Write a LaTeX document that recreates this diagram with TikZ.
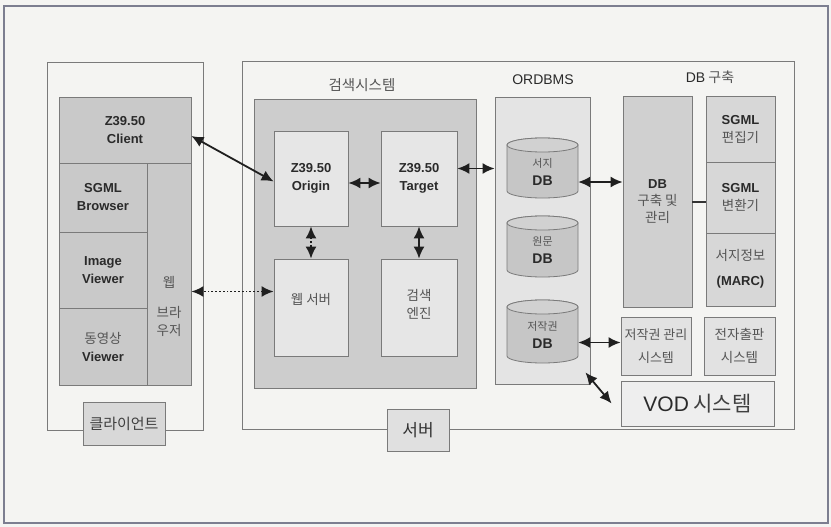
\documentclass[tikz,border=0pt]{standalone}
\usepackage{fontspec}
\setmainfont{Noto Sans CJK KR}
\newfontfamily\lat{Liberation Sans}
\usetikzlibrary{arrows.meta}
\definecolor{bg}{HTML}{F4F4F2}
\definecolor{outerc}{HTML}{7C7E90}
\definecolor{edge}{HTML}{7A7A7A}
\definecolor{txt}{HTML}{2A2A2A}
\definecolor{krc}{HTML}{555555}
\definecolor{clgray}{HTML}{C9C9C9}
\definecolor{ssgray}{HTML}{CDCDCD}
\definecolor{inbox}{HTML}{E6E6E6}
\definecolor{ordc}{HTML}{E4E4E4}
\definecolor{cylc}{HTML}{C6C6C6}
\definecolor{dbmc}{HTML}{D0D0D0}
\definecolor{colc}{HTML}{D7D7D7}
\definecolor{sysc}{HTML}{E2E2E2}
\definecolor{vodc}{HTML}{EEEEEE}
\definecolor{labc}{HTML}{D8D8D8}
\newcommand\ltn[1]{{\lat\bfseries #1}}
\newcommand\kor[1]{\textcolor{krc}{\fontsize{13.5}{18}\selectfont #1}}
\newcommand\cylbody[3]{% cx, top, bottom
  \filldraw[fill=cylc,draw=edge,line width=0.8pt]
    (#1-35.5,#2+7) -- (#1-35.5,#3-7)
    arc[start angle=180,end angle=360,x radius=35.5pt,y radius=7pt]
    -- (#1+35.5,#2+7)
    arc[start angle=0,end angle=180,x radius=35.5pt,y radius=7pt] -- cycle;
  \filldraw[fill=cylc!80!white,draw=edge,line width=0.8pt]
    (#1,#2+7) ellipse[x radius=35.5pt,y radius=7pt];
}
\begin{document}
\begin{tikzpicture}[x=1pt,y=-1pt,
  box/.style={draw=edge,line width=0.8pt,inner sep=0pt,align=center,text=txt,
    font=\fontsize{13}{18}\selectfont},
  plain/.style={inner sep=0pt,align=center,text=txt,font=\fontsize{13}{18}\selectfont},
  arr/.style={line width=1.8pt,draw=black!88,{Latex[length=12pt,width=11pt]}-{Latex[length=12pt,width=11pt]}},
  darr/.style={arr,dotted},
]
\useasboundingbox (0,0) rectangle (831,527);
\fill[bg] (0,0) rectangle (831,527);
\draw[outerc,line width=1.6pt] (4,6) rectangle (828,523);

% client
\node[box,fill=none,minimum width=156,minimum height=368] (cbox) at (125,246) {};
\node[box,fill=clgray,minimum width=132,minimum height=66] (zc) at (125,130) {\ltn{Z39.50}\\\ltn{Client}};
\node[box,fill=clgray,minimum width=88,minimum height=69] (sb) at (103,197.5) {\ltn{SGML}\\\ltn{Browser}};
\node[box,fill=clgray,minimum width=88,minimum height=76] (iv) at (103,270) {\ltn{Image}\\\ltn{Viewer}};
\node[box,fill=clgray,minimum width=88,minimum height=77] (mv) at (103,346.5) {\kor{동영상}\\\ltn{Viewer}};
\node[box,fill=clgray,minimum width=44,minimum height=222] (wb) at (169,274) {};
\node[plain] (wbt) at (169,306) {\kor{웹}\\[12pt]\kor{브라}\\\kor{우저}};
\node[box,fill=labc,minimum width=82,minimum height=43,font=\fontsize{15}{18}\selectfont] (clab) at (124,423.5) {\textcolor{black!75}{클라이언트}};

% server
\node[box,fill=none,minimum width=552,minimum height=368] (sbox) at (518,245) {};
\node[box,fill=labc!80!white,minimum width=62,minimum height=42,font=\fontsize{17}{20}\selectfont] (slab) at (418,430) {\textcolor{black!80}{서버}};

% search system
\node[plain,font=\fontsize{14}{18}\selectfont] (sst) at (362,85) {\kor{\fontsize{14.5}{18}\selectfont 검색시스템}};
\node[box,fill=ssgray,minimum width=222,minimum height=289] (ss) at (365,243.5) {};
\node[box,fill=inbox,minimum width=74,minimum height=95] (org) at (311,178.5) {\ltn{Z39.50}\\\ltn{Origin}};
\node[box,fill=inbox,minimum width=76,minimum height=95] (tgt) at (419,178.5) {\ltn{Z39.50}\\\ltn{Target}};
\node[box,fill=inbox,minimum width=74,minimum height=97,text depth=17pt] (web) at (311,307.5) {\kor{웹 서버}};
\node[box,fill=inbox,minimum width=76,minimum height=97,text depth=8pt] (eng) at (419,307.5) {\kor{검색}\\\kor{엔진}};

% ORDBMS
\node[plain,font=\lat\fontsize{14}{18}\selectfont] (ordt) at (543,80) {ORDBMS};
\node[box,fill=ordc,minimum width=95,minimum height=287] (ord) at (542.5,240.5) {};
\cylbody{542.5}{138}{198}
\cylbody{542.5}{216}{277}
\cylbody{542.5}{300}{363}
\node[plain,minimum width=71,minimum height=60] (c1) at (542.5,168) {};
\node[plain,minimum width=71,minimum height=61] (c2) at (542.5,246.5) {};
\node[plain,minimum width=71,minimum height=63] (c3) at (542.5,331.5) {};
\node[plain] at (542.5,172) {\textcolor{krc}{\fontsize{11}{17}\selectfont 서지}\\\ltn{\fontsize{14}{17}\selectfont DB}};
\node[plain] at (542.5,250) {\textcolor{krc}{\fontsize{11}{17}\selectfont 원문}\\\ltn{\fontsize{14}{17}\selectfont DB}};
\node[plain] at (542.5,335) {\textcolor{krc}{\fontsize{11}{17}\selectfont 저작권}\\\ltn{\fontsize{14}{17}\selectfont DB}};

% DB construction
\node[plain,font=\fontsize{14}{18}\selectfont] (dbt) at (710,77) {{\lat DB} \kor{\fontsize{14}{18}\selectfont 구축}};
\node[box,fill=dbmc,minimum width=69,minimum height=211] (dbm) at (657.5,201.5) {\ltn{DB}\\[-1pt]\kor{구축 및}\\[-1pt]\kor{관리}};
\node[box,fill=colc,minimum width=69,minimum height=66] (se) at (740.5,129) {\ltn{SGML}\\\kor{편집기}};
\node[box,fill=colc,minimum width=69,minimum height=71] (sc) at (740.5,197.5) {\ltn{SGML}\\\kor{변환기}};
\node[box,fill=colc,minimum width=69,minimum height=73,text depth=4pt] (sm) at (740.5,269.5) {\kor{서지정보}\\[7pt]\ltn{(MARC)}};
\node[box,fill=sysc,minimum width=70,minimum height=58,font=\fontsize{13}{23}\selectfont] (cm) at (656,346) {\textcolor{krc}{저작권 관리}\\\textcolor{krc}{시스템}};
\node[box,fill=sysc,minimum width=71,minimum height=58,font=\fontsize{13.5}{23}\selectfont] (ep) at (739.5,346) {\textcolor{krc}{전자출판}\\\textcolor{krc}{시스템}};
\node[box,fill=vodc,minimum width=153,minimum height=45,font=\fontsize{21}{24}\selectfont] (vod) at (697.5,403.5) {{\lat VOD} \textcolor{black!75}{시스템}};

% connectors
\draw[arr] ([yshift=-3pt]org.west) -- ([yshift=-6pt]zc.east);
\draw[darr] ([yshift=16pt]web.west) -- ([yshift=16pt]web.west -| wb.east);
\draw[arr] (org.east |- 0,183) -- (tgt.west |- 0,183);
\draw[arr] ([yshift=10pt]tgt.east) -- ([yshift=10pt]tgt.east -| ord.west);
\draw[darr] (org.south) -- (web.north);
\draw[arr] (tgt.south) -- (eng.north);
\draw[arr] ([yshift=-14pt]c1.east) -- ([yshift=-14pt]c1.east -| dbm.west);
\draw[arr] ([yshift=-11pt]c3.east) -- ([yshift=-11pt]c3.east -| cm.west);
\draw[arr] ([shift={(-5pt,12pt)}]ord.south east) -- ([xshift=-9pt]vod.west);
\draw[line width=2pt,draw=black!80] (dbm.east) -- (dbm.east -| sc.west);
\end{tikzpicture}
\end{document}
